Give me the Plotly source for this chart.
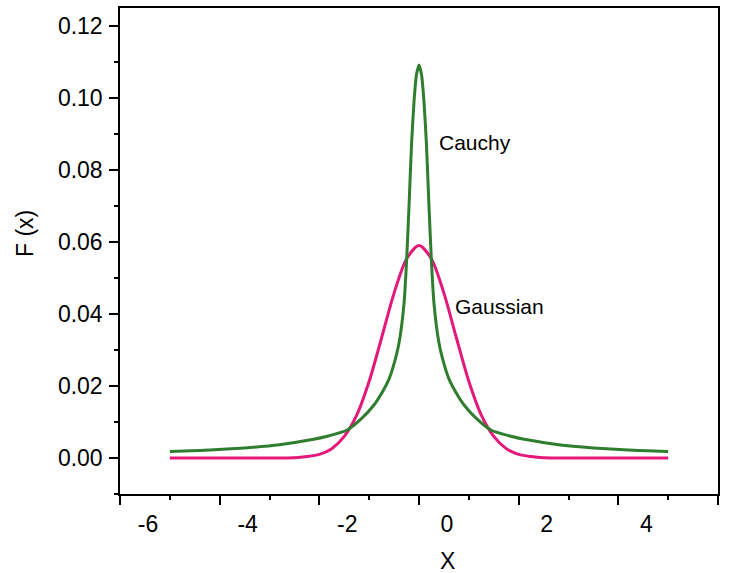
import plotly.graph_objects as go

# Values
x_gauss = [-5.0, -4.0, -3.0, -2.5, -2.25, -2.0, -1.75, -1.5, -1.25, -1.0, -0.75, -0.5, -0.25, 0.0,
           0.25, 0.5, 0.75, 1.0, 1.25, 1.5, 1.75, 2.0, 2.25, 2.5, 3.0, 4.0, 5.0]
y_gauss = [0.0, 0.0, 0.0, 0.0001, 0.0004, 0.0010, 0.0026, 0.0060, 0.0119, 0.0213, 0.0334, 0.0458, 0.0553, 0.0590,
           0.0553, 0.0458, 0.0334, 0.0213, 0.0119, 0.0060, 0.0026, 0.0010, 0.0004, 0.0001, 0.0, 0.0, 0.0]

x_cauchy = [-5.0, -4.2, -3.5, -2.8, -2.2, -1.8, -1.45, -1.15, -0.9, -0.75, -0.6, -0.5, -0.4, -0.3, -0.25,
            -0.2, -0.15, -0.1, -0.05, 0.0,
            0.05, 0.1, 0.15, 0.2, 0.25, 0.3, 0.4, 0.5, 0.6, 0.75, 0.9, 1.15, 1.45, 1.8, 2.2, 2.8, 3.5, 4.2, 5.0]
y_cauchy = [0.0018, 0.0022, 0.0028, 0.0037, 0.0050, 0.0062, 0.0077, 0.0110, 0.0148, 0.0180, 0.0220, 0.0262, 0.0320, 0.0430, 0.0545,
            0.0700, 0.0870, 0.0990, 0.1065, 0.1092,
            0.1065, 0.0990, 0.0870, 0.0700, 0.0545, 0.0430, 0.0320, 0.0262, 0.0220, 0.0180, 0.0148, 0.0110, 0.0077, 0.0062, 0.0050, 0.0037, 0.0028, 0.0022, 0.0018]

x_tickvals = [-6, -4, -2, 0, 2, 4, 6]
x_ticktext = ["-6", "-4", "-2", "0", "2", "4", "6"]
y_tickvals = [0.0, 0.02, 0.04, 0.06, 0.08, 0.10, 0.12]
y_ticktext = ["0.00", "0.02", "0.04", "0.06", "0.08", "0.10", "0.12"]

FONT = "Arial, Liberation Sans, sans-serif"
PINK = "#e3187a"
GREEN = "#2f7d2f"

fig = go.Figure()
fig.add_trace(go.Scatter(x=x_gauss, y=y_gauss, mode="lines",
                         line=dict(color=PINK, width=3, shape="spline", smoothing=0.8),
                         name="Gaussian", hoverinfo="skip"))
fig.add_trace(go.Scatter(x=x_cauchy, y=y_cauchy, mode="lines",
                         line=dict(color=GREEN, width=3, shape="spline", smoothing=0.6),
                         name="Cauchy", hoverinfo="skip"))

fig.update_layout(
    width=752, height=573,
    margin=dict(l=120, r=34, t=8, b=79, autoexpand=False),
    paper_bgcolor="white", plot_bgcolor="white",
    showlegend=False,
    font=dict(family=FONT, color="black", size=21),
    xaxis=dict(range=[-6, 6], tickvals=x_tickvals, ticktext=x_ticktext,
               ticks="outside", ticklen=9, tickwidth=1.5, tickcolor="black",
               minor=dict(ticks="outside", ticklen=4, dtick=1, tick0=0, tickwidth=1.5, tickcolor="black"),
               showline=True, linecolor="black", linewidth=1.5, mirror=True,
               showgrid=False, zeroline=False, ticklabelshift=28, automargin=False,
               tickfont=dict(size=23, family=FONT)),
    yaxis=dict(range=[-0.01, 0.125], tickvals=y_tickvals, ticktext=y_ticktext,
               ticks="outside", ticklen=9, tickwidth=1.5, tickcolor="black",
               minor=dict(ticks="outside", ticklen=4, dtick=0.01, tick0=0, tickwidth=1.5, tickcolor="black"),
               showline=True, linecolor="black", linewidth=1.5, mirror=True,
               showgrid=False, zeroline=False, automargin=False, ticklabelstandoff=2,
               tickfont=dict(size=23, family=FONT)),
    annotations=[
        dict(text="Cauchy", x=0.36, y=0.0876, xref="x", yref="y", xanchor="left", yanchor="middle",
             showarrow=False, font=dict(size=21, family=FONT)),
        dict(text="Gaussian", x=0.68, y=0.042, xref="x", yref="y", xanchor="left", yanchor="middle",
             showarrow=False, font=dict(size=21, family=FONT)),
        dict(text="X", x=(447 - 120) / 598, y=(494 - 560.5) / 486, xref="paper", yref="paper",
             xanchor="center", yanchor="middle", showarrow=False, font=dict(size=23, family=FONT)),
        dict(text="F (x)", x=(25 - 120) / 598, y=(494 - 234) / 486, xref="paper", yref="paper",
             xanchor="center", yanchor="middle", textangle=-90, showarrow=False,
             font=dict(size=23, family=FONT)),
    ],
)

fig.write_html("out.html", config={"displayModeBar": False},
               post_script="document.body.style.margin='0';")
